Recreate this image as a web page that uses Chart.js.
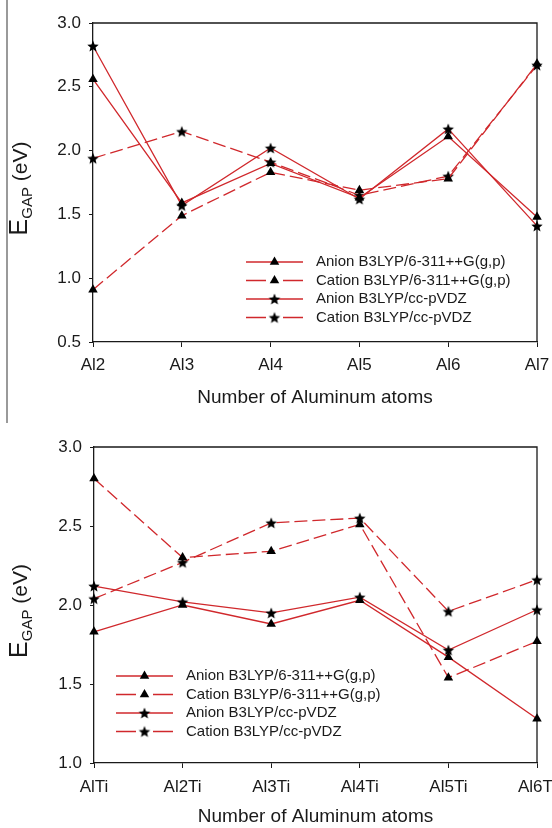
<!DOCTYPE html>
<html>
<head>
<meta charset="utf-8">
<script src="https://cdn.jsdelivr.net/npm/chart.js@4.4.0/dist/chart.umd.min.js"></script>
<style>
  body { margin: 0; background: #fff; }
  #wrap { position: relative; width: 552px; height: 828px; }
  canvas { display: block; }
  #bar { position: absolute; left: 6px; top: 0; width: 2px; height: 423px; background: #9a9a9a; }
</style>
</head>
<body>
<div id="wrap">
  <canvas id="topChart" width="552" height="414"></canvas>
  <canvas id="bottomChart" width="552" height="414"></canvas>
  <div id="bar"></div>
</div>
<script>
// --- data ---
const seriesNames = [
  'Anion B3LYP/6-311++G(g,p)',
  'Cation B3LYP/6-311++G(g,p)',
  'Anion B3LYP/cc-pVDZ',
  'Cation B3LYP/cc-pVDZ'
];

// top panel: Al_n clusters
const clustersAl = ['Al2', 'Al3', 'Al4', 'Al5', 'Al6', 'Al7'];
const anion6311Al = [2.56, 1.59, 1.90, 1.63, 2.11, 1.48];
const cation6311Al = [0.91, 1.49, 1.83, 1.69, 1.78, 2.68];
const anionCcAl = [2.82, 1.57, 2.02, 1.62, 2.17, 1.41];
const cationCcAl = [1.94, 2.15, 1.91, 1.65, 1.80, 2.67];

// bottom panel: Al_nTi clusters
const clustersAlTi = ['AlTi', 'Al2Ti', 'Al3Ti', 'Al4Ti', 'Al5Ti', 'Al6Ti'];
const anion6311AlTi = [1.83, 2.00, 1.88, 2.03, 1.67, 1.28];
const cation6311AlTi = [2.80, 2.30, 2.34, 2.51, 1.54, 1.77];
const anionCcAlTi = [2.12, 2.02, 1.95, 2.05, 1.715, 1.97];
const cationCcAlTi = [2.04, 2.27, 2.52, 2.55, 1.96, 2.16];

const FONT = '"Liberation Sans", Arial, sans-serif';
const RED = '#d0282c';
const INK = '#1a1a1a';

// filled black star marker
function makeStar(r) {
  const c = document.createElement('canvas');
  const s = Math.ceil(r * 2) + 2;
  c.width = c.height = s;
  const g = c.getContext('2d');
  g.fillStyle = '#000';
  g.beginPath();
  for (let i = 0; i < 10; i++) {
    const rad = i % 2 ? r * 0.45 : r;
    const a = -Math.PI / 2 + i * Math.PI / 5;
    const x = s / 2 + rad * Math.cos(a), y = s / 2 + rad * Math.sin(a) + r * 0.1;
    i ? g.lineTo(x, y) : g.moveTo(x, y);
  }
  g.closePath();
  g.fill();
  return c;
}
const star = makeStar(6);

function makeSets(series) {
  return series.map((data, i) => ({
    label: seriesNames[i],
    data: data,
    borderColor: RED,
    borderWidth: 1.3,
    borderDash: i % 2 ? [13, 5] : [],
    pointStyle: i < 2 ? 'triangle' : star,
    pointRadius: 5.5,
    pointBackgroundColor: '#000',
    pointBorderColor: '#000',
    pointBorderWidth: 0,
    tension: 0,
    fill: false,
    clip: false
  }));
}

// top + right sides of the plot box
const framePlugin = {
  id: 'frame',
  beforeDatasetsDraw(chart) {
    const { ctx, chartArea: a } = chart;
    ctx.save();
    ctx.strokeStyle = INK;
    ctx.lineWidth = 1.3;
    ctx.beginPath();
    ctx.moveTo(a.left, a.top);
    ctx.lineTo(a.right, a.top);
    ctx.lineTo(a.right, a.bottom);
    ctx.stroke();
    ctx.restore();
  }
};

// legend inside the plot: line sample + marker + label
const legendPlugin = {
  id: 'boxLegend',
  afterDatasetsDraw(chart, args, o) {
    const ctx = chart.ctx;
    chart.data.datasets.forEach((ds, i) => {
      const y = o.y + i * o.rowH;
      ctx.save();
      ctx.strokeStyle = ds.borderColor;
      ctx.lineWidth = ds.borderWidth;
      ctx.setLineDash(ds.borderDash.length ? [20, 17] : []);
      ctx.beginPath();
      ctx.moveTo(o.x, y);
      ctx.lineTo(o.x + o.lineW, y);
      ctx.stroke();
      ctx.setLineDash([]);
      ctx.fillStyle = '#000';
      Chart.helpers.drawPoint(ctx, { pointStyle: ds.pointStyle, radius: ds.pointRadius, rotation: 0, borderWidth: 0 }, o.x + o.lineW / 2, y);
      ctx.fillStyle = INK;
      ctx.font = '15px ' + FONT;
      ctx.textBaseline = 'middle';
      ctx.fillText(ds.label, o.x + o.textGap, y);
      ctx.restore();
    });
  }
};

// rotated y title with subscript: E_GAP (eV)
const yTitlePlugin = {
  id: 'yTitle',
  afterDraw(chart, args, o) {
    const { ctx, chartArea: a } = chart;
    const fE = '25px ' + FONT, fSub = '15px ' + FONT, fUnit = '21px ' + FONT;
    ctx.save();
    ctx.font = fE;
    const wE = ctx.measureText('E').width;
    ctx.font = fUnit;
    const wRest = ctx.measureText(' (eV)').width;
    ctx.font = fSub;
    const wSub = ctx.measureText('GAP').width;
    const total = wE + wSub + wRest;
    ctx.translate(o.x, (a.top + a.bottom) / 2 + o.shift);
    ctx.rotate(-Math.PI / 2);
    ctx.fillStyle = INK;
    ctx.textBaseline = 'alphabetic';
    let x = -total / 2;
    ctx.font = fE;
    ctx.fillText('E', x, 0);
    x += wE;
    ctx.font = fSub;
    ctx.fillText('GAP', x, 5);
    x += wSub;
    ctx.font = fUnit;
    ctx.fillText(' (eV)', x, 0);
    ctx.restore();
  }
};

function buildChart(id, labels, series, yMin, cfg) {
  return new Chart(document.getElementById(id), {
    type: 'line',
    data: { labels: labels, datasets: makeSets(series) },
    options: {
      responsive: false,
      animation: false,
      devicePixelRatio: 1,
      events: [],
      layout: { padding: { top: cfg.top, right: 15, left: 0, bottom: 0 } },
      plugins: {
        legend: { display: false },
        tooltip: { enabled: false },
        boxLegend: { x: cfg.legX, y: 262, rowH: 18.5, lineW: 57, textGap: 70 },
        yTitle: { x: 27, shift: 6 }
      },
      scales: {
        x: {
          offset: false,
          grid: { drawOnChartArea: false, tickLength: 5, color: INK },
          border: { color: INK, width: 1.3 },
          ticks: { color: INK, font: { size: 17, family: FONT }, padding: cfg.xPad, maxRotation: 0, autoSkip: false },
          title: { display: true, text: 'Number of Aluminum atoms', color: INK, font: { size: 19, family: FONT }, padding: { top: 0, bottom: cfg.titleBottom } },
          afterFit: s => { s.height = cfg.xHeight; s.paddingLeft = 0; s.paddingRight = 0; }
        },
        y: {
          min: yMin,
          max: 3,
          ticks: { stepSize: 0.5, callback: v => v.toFixed(1), color: INK, font: { size: 17, family: FONT }, padding: 8 },
          grid: { drawOnChartArea: false, tickLength: 4, color: INK },
          border: { color: INK, width: 1.3 },
          afterFit: s => { s.width = cfg.left; s.paddingTop = 0; s.paddingBottom = 0; }
        }
      }
    },
    plugins: [framePlugin, legendPlugin, yTitlePlugin]
  });
}

buildChart('topChart', clustersAl, [anion6311Al, cation6311Al, anionCcAl, cationCcAl], 0.5,
  { top: 23, left: 93, xHeight: 72, xPad: 8, titleBottom: 4.5, legX: 246 });
buildChart('bottomChart', clustersAlTi, [anion6311AlTi, cation6311AlTi, anionCcAlTi, cationCcAlTi], 1.0,
  { top: 33, left: 94, xHeight: 65, xPad: 9, titleBottom: 0, legX: 116 });
</script>
</body>
</html>
